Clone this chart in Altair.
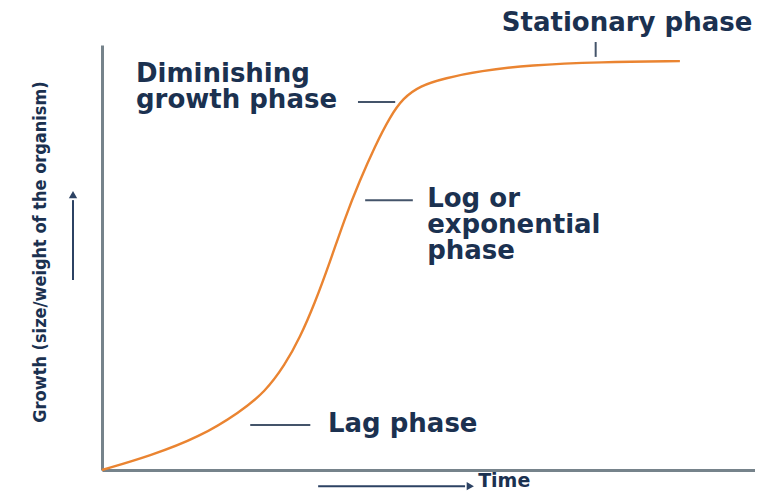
import altair as alt
import pandas as pd

# ---- data ----
curve_time = [0, 7.35, 15.0, 21.1, 25.0, 28.0, 30.3, 32.6, 34.9, 37.2, 39.5, 41.8,
              44.1, 46.1, 48.7, 52.5, 57.9, 65.5, 76.3, 88.5]
curve_growth = [0, 3.3, 7.8, 13.6, 18.4, 24.7, 31.1, 39.3, 48.9, 59.3, 68.2, 76.2,
                83.1, 87.5, 90.4, 92.2, 93.9, 95.3, 96.0, 96.2]

label_text = ["Diminishing", "growth phase", "Log or", "exponential", "phase", "Lag phase"]
label_time = [5.2, 5.2, 49.8, 49.8, 49.8, 34.6]
label_growth = [91.3, 85.2, 61.9, 55.8, 49.6, 8.9]

stationary_text = ["Stationary phase"]
stationary_time = [99.6]
stationary_growth = [103.3]

leader_t1 = [39.2, 40.3, 22.7, 75.6]
leader_t2 = [44.9, 47.6, 31.9, 75.6]
leader_g1 = [86.6, 63.5, 10.6, 97.2]
leader_g2 = [86.6, 63.5, 10.6, 100.7]

arrow_t1 = [33.1, -4.44]
arrow_t2 = [55.6, -4.44]
arrow_g1 = [-3.8, 44.7]
arrow_g2 = [-3.8, 63.5]
head_t = [56.4, -4.44]
head_g = [-3.8, 64.8]
head_shape = ["triangle-right", "triangle-up"]

x_title = ["Time"]
x_title_t = [57.6]
x_title_g = [-2.7]

y_title = ["Growth (size/weight of the organism)"]
y_title_t = [-9.3]
y_title_g = [51.3]

TEXT = "#1b3150"
AXIS = "#76838b"
CURVE = "#ea8431"

curve_df = pd.DataFrame({"t": curve_time, "g": curve_growth})
label_df = pd.DataFrame({"t": label_time, "g": label_growth, "label": label_text})
stat_df = pd.DataFrame({"t": stationary_time, "g": stationary_growth, "label": stationary_text})
leader_df = pd.DataFrame({"t": leader_t1, "t2": leader_t2, "g": leader_g1, "g2": leader_g2})
arrow_df = pd.DataFrame({"t": arrow_t1, "t2": arrow_t2, "g": arrow_g1, "g2": arrow_g2})
head_df = pd.DataFrame({"t": head_t, "g": head_g, "shape": head_shape})
xt_df = pd.DataFrame({"t": x_title_t, "g": x_title_g, "label": x_title})
yt_df = pd.DataFrame({"t": y_title_t, "g": y_title_g, "label": y_title})

axis_common = dict(title=None, labels=False, ticks=False, grid=False, domain=True,
                   domainColor=AXIS, domainWidth=3)
X = alt.X("t:Q", scale=alt.Scale(domain=[0, 100], nice=False, zero=False),
          axis=alt.Axis(**axis_common))
Y = alt.Y("g:Q", scale=alt.Scale(domain=[0, 100], nice=False, zero=False),
          axis=alt.Axis(**axis_common))

curve = alt.Chart(curve_df).mark_line(color=CURVE, strokeWidth=2.4,
                                      interpolate="basis").encode(x=X, y=Y)

labels = alt.Chart(label_df).mark_text(align="left", baseline="alphabetic",
                                       font="DejaVu Sans", fontWeight="bold",
                                       fontSize=26, color=TEXT).encode(x=X, y=Y, text="label:N")

stat = alt.Chart(stat_df).mark_text(align="right", baseline="alphabetic",
                                    font="DejaVu Sans", fontWeight="bold",
                                    fontSize=26, color=TEXT).encode(x=X, y=Y, text="label:N")

leaders = alt.Chart(leader_df).mark_rule(color="#44546a", strokeWidth=2).encode(
    x=X, x2="t2:Q", y=Y, y2="g2:Q")

arrows = alt.Chart(arrow_df).mark_rule(color="#2c4263", strokeWidth=2).encode(
    x=X, x2="t2:Q", y=Y, y2="g2:Q")

heads = alt.Chart(head_df).mark_point(filled=True, size=70, color="#2c4263", opacity=1).encode(
    x=X, y=Y, shape=alt.Shape("shape:N", scale=None))

xtitle = alt.Chart(xt_df).mark_text(align="left", baseline="middle",
                                    font="DejaVu Sans", fontWeight="bold",
                                    fontSize=19, color=TEXT).encode(x=X, y=Y, text="label:N")

ytitle = alt.Chart(yt_df).mark_text(align="center", baseline="middle", angle=270,
                                    font="'Liberation Sans Narrow', 'DejaVu Sans Condensed', sans-serif",
                                    fontWeight="bold", fontSize=18, color=TEXT).encode(
    x=X, y=Y, text="label:N")

chart = alt.layer(curve, leaders, arrows, heads, labels, stat, xtitle, ytitle).properties(
    width=653, height=425,
    padding={"left": 94, "top": 37, "right": 0, "bottom": 21},
    autosize=alt.AutoSizeParams(type="none"),
    background="white",
).configure_view(stroke=None)

chart.save("out.html", embed_options={"renderer": "svg", "actions": False})
